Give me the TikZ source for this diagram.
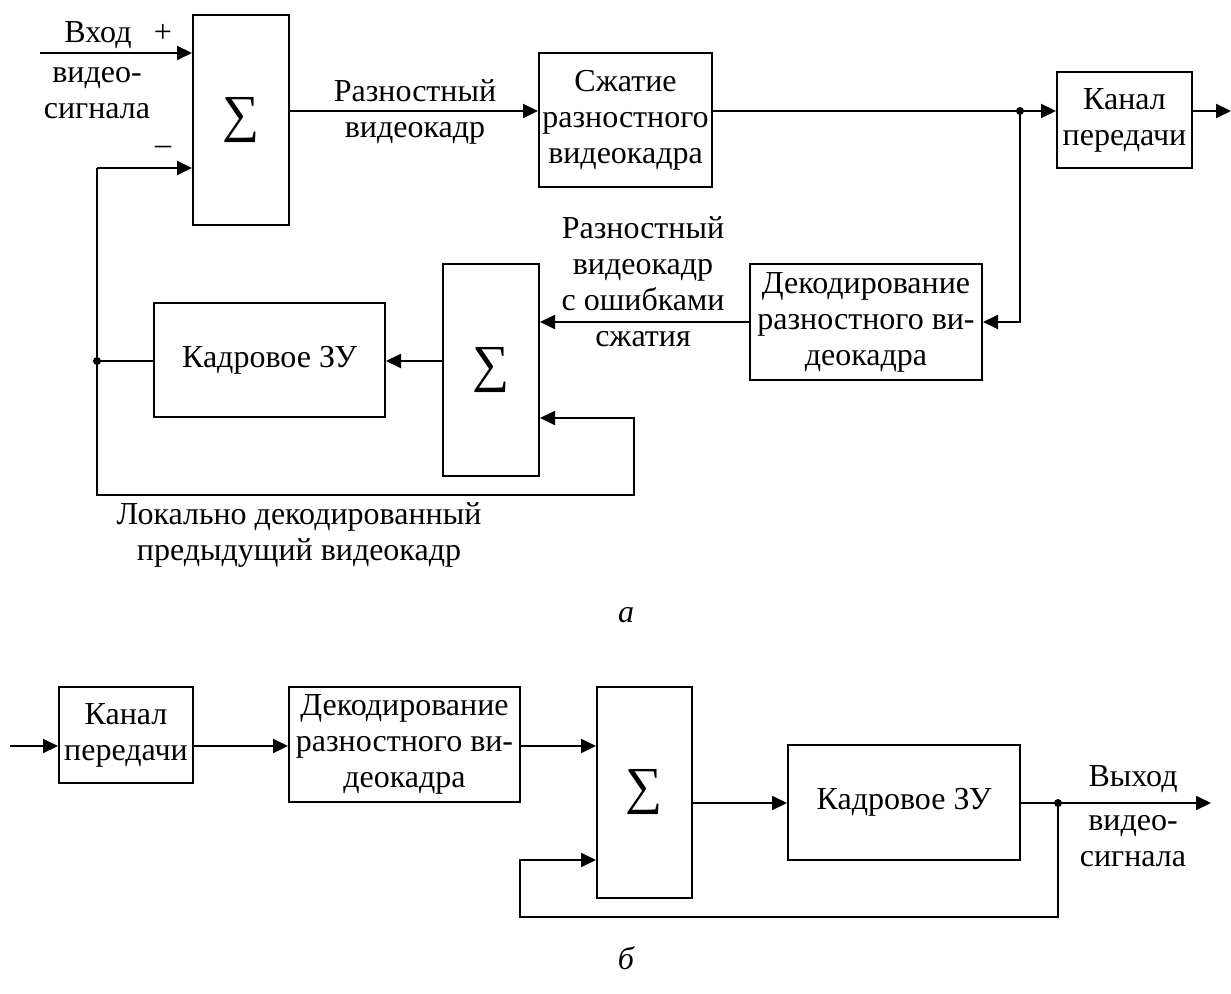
\documentclass[tikz,border=0pt]{standalone}
\usepackage{fontspec}
\setmainfont{Liberation Serif}
\usetikzlibrary{arrows.meta}
\begin{document}
\begin{tikzpicture}[x=0.5pt,y=-0.5pt,
  font=\fontsize{16}{18}\selectfont,
  every node/.style={inner sep=0pt, align=center},
  blk/.style={draw, line width=1pt},
  sumblk/.style={blk, minimum width=48pt, minimum height=105pt, font=\fontsize{26}{28}\selectfont},
  wire/.style={line width=1pt},
  arr/.style={wire, -{Triangle[length=7.5pt,width=7pt]}},
  junc/.style={circle, fill, minimum size=4pt, inner sep=0pt}]
\useasboundingbox (0,0) rectangle (1231,994);

% ---- coder ----
\node[sumblk] (S1) at (241,120) {∑};
\node[blk, minimum width=86.5pt, minimum height=67pt] (C) at (625.5,120) {Сжатие\\разностного\\видеокадра};
\node[blk, minimum width=67.5pt, minimum height=48pt] (K1) at (1124.5,120) {Канал\\передачи};
\node[blk, minimum width=116pt, minimum height=58pt] (D1) at (866,322) {Декодирование\\разностного ви-\\деокадра};
\node[sumblk, minimum height=106pt] (S2) at (491,370) {∑};
\node[blk, minimum width=115.5pt, minimum height=57pt] (Z1) at (269.5,360) {Кадровое ЗУ};

\coordinate (in1) at (40,53);
\coordinate (fb) at (97,168);
\coordinate (r1) at (0,111);
\coordinate (r2) at (0,322);
\coordinate (r3) at (0,361);
\coordinate (r4) at (0,418);
\node[junc] (j1) at (1020,111) {};
\node[junc] (j2) at (97,361) {};
\coordinate (out1) at (1231,111);
\coordinate (lp) at (634,495);

\draw[arr] (in1) -- (in1 -| S1.west);
\draw[arr] (fb) -- (fb -| S1.west);
\draw[arr] (S1.east |- r1) -- (C.west |- r1);
\draw[wire] (C.east |- r1) -- (j1.center);
\draw[arr] (j1.center) -- (K1.west |- r1);
\draw[arr] (K1.east |- r1) -- (out1);
\draw[arr] (j1.center) |- (D1.east |- r2);
\draw[arr] (D1.west |- r2) -- (S2.east |- r2);
\draw[arr] (S2.west |- r3) -- (Z1.east |- r3);
\draw[wire] (Z1.west |- r3) -- (j2.center);
\draw[arr] (fb) |- (lp) |- (S2.east |- r4);

\node (tin) at (98,35) {Вход};
\node (tplus) at (163,33) {+};
\node (tvs) at (97,93) {видео-\\сигнала};
\node (tminus) at (163,150) {–};
\node (td1) at (415,112) {Разностный\\видеокадр};
\node (td2) at (643,282) {Разностный\\видеокадр\\с ошибками\\сжатия};
\node (tloc) at (299,535) {Локально декодированный\\предыдущий видеокадр};
\node (ta) at (626,615) {\itshape а};

% ---- decoder ----
\node[blk, minimum width=67pt, minimum height=48pt] (K2) at (126,735) {Канал\\передачи};
\node[blk, minimum width=115.5pt, minimum height=57.5pt] (D2) at (404.5,744.5) {Декодирование\\разностного ви-\\деокадра};
\node[sumblk, minimum width=47.5pt, minimum height=105.5pt] (S3) at (644.5,792.5) {∑};
\node[blk, minimum width=116pt, minimum height=57.5pt] (Z2) at (904,802.5) {Кадровое ЗУ};

\coordinate (in2) at (10,746);
\coordinate (r5) at (0,746);
\coordinate (r6) at (0,803);
\coordinate (r7) at (0,860);
\node[junc] (j3) at (1058,803) {};
\coordinate (out2) at (1211,803);
\coordinate (lb) at (520,917);

\draw[arr] (in2) -- (K2.west |- r5);
\draw[arr] (K2.east |- r5) -- (D2.west |- r5);
\draw[arr] (D2.east |- r5) -- (S3.west |- r5);
\draw[arr] (S3.east |- r6) -- (Z2.west |- r6);
\draw[wire] (Z2.east |- r6) -- (j3.center);
\draw[arr] (j3.center) -- (out2);
\draw[arr] (j3.center) |- (lb) |- (S3.west |- r7);

\node (tout) at (1133,779) {Выход};
\node (tvs2) at (1133,841) {видео-\\сигнала};
\node (tb) at (626,958) {\itshape б};
\end{tikzpicture}
\end{document}
